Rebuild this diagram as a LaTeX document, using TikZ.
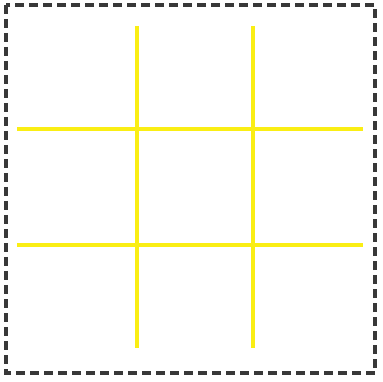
\documentclass[tikz,border=0pt]{standalone}
\begin{document}
\begin{tikzpicture}[x=1pt,y=-1pt,
  frame/.style={draw=black!78, line width=3.4pt, dash pattern=on 9pt off 5pt},
  gridline/.style={draw={rgb,255:red,250;green,238;blue,20}, line width=3.6pt}]
\useasboundingbox (0,0) rectangle (383,382);
\draw[frame] (6,5) rectangle (375,373);
\coordinate (v1t) at (137,26); \coordinate (v1b) at (137,348);
\coordinate (v2t) at (253,26); \coordinate (v2b) at (253,348);
\coordinate (h1l) at (17,129); \coordinate (h1r) at (363,129);
\coordinate (h2l) at (17,245); \coordinate (h2r) at (363,245);
\draw[gridline] (v1t) -- (v1b);
\draw[gridline] (v2t) -- (v2b);
\draw[gridline] (h1l) -- (h1r);
\draw[gridline] (h2l) -- (h2r);
\end{tikzpicture}
\end{document}
